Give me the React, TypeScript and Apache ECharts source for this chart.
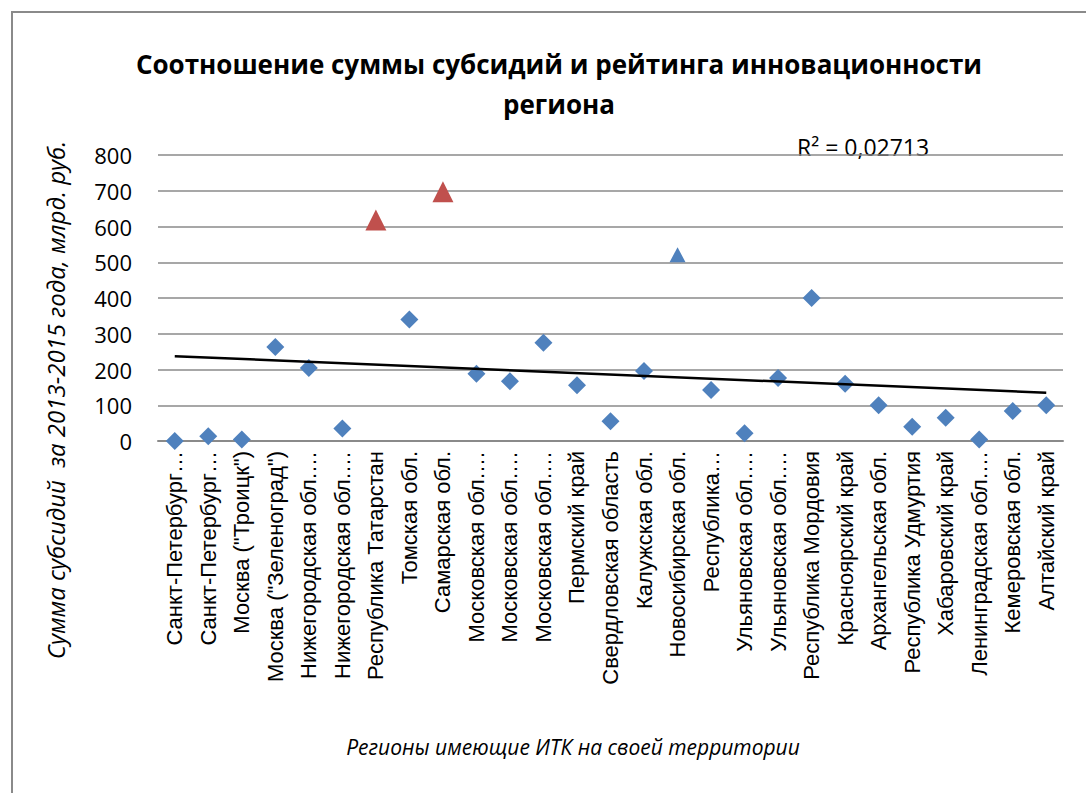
import { useEffect, useRef } from "react";
import * as echarts from "echarts";

// Regions hosting innovation clusters (ИТК), in chart order
const regions = [
  "Санкт-Петербург…",
  "Санкт-Петербург…",
  'Москва ("Троицк")',
  'Москва ("Зеленоград")',
  "Нижегородская обл.…",
  "Нижегородская обл.…",
  "Республика Татарстан",
  "Томская обл.",
  "Самарская обл.",
  "Московская обл.…",
  "Московская обл.…",
  "Московская обл.…",
  "Пермский край",
  "Свердловская область",
  "Калужская обл.",
  "Новосибирская обл.",
  "Республика…",
  "Ульяновская обл.…",
  "Ульяновская обл.…",
  "Республика Мордовия",
  "Красноярский край",
  "Архангельская обл.",
  "Республика Удмуртия",
  "Хабаровский край",
  "Ленинградская обл.…",
  "Кемеровская обл.",
  "Алтайский край",
];

// Subsidies 2013-2015, bln rub.
const subsidies = [
  0, 13, 4, 263, 204, 35, 618, 340, 697, 188, 167, 275, 156, 55, 196, 521,
  143, 22, 176, 400, 160, 100, 40, 65, 4, 84, 100,
];

// Regions highlighted with triangle markers
const redTriangleRegions = ["Республика Татарстан", "Самарская обл."];
const blueTriangleRegions = ["Новосибирская обл."];

const yTicks = [0, 100, 200, 300, 400, 500, 600, 700, 800];
const r2Label = "R² = 0,02713";

const BLUE = "#4F81BD";
const RED = "#C0504D";
const GRID_GRAY = "#8a8a8a";

// Least-squares linear trend over category positions 1..n
function linearTrend(values: number[]) {
  const n = values.length;
  const xs = values.map((_, i) => i + 1);
  const mx = xs.reduce((a, b) => a + b, 0) / n;
  const my = values.reduce((a, b) => a + b, 0) / n;
  let sxy = 0;
  let sxx = 0;
  for (let i = 0; i < n; i++) {
    sxy += (xs[i] - mx) * (values[i] - my);
    sxx += (xs[i] - mx) * (xs[i] - mx);
  }
  const slope = sxy / sxx;
  const intercept = my - slope * mx;
  return [
    [0, intercept + slope * xs[0]],
    [n - 1, intercept + slope * xs[n - 1]],
  ];
}

export default function App() {
  const ref = useRef<HTMLDivElement>(null);

  useEffect(() => {
    if (!ref.current) return;
    const chart = echarts.init(ref.current, null, { renderer: "svg" });

    const points = subsidies.map((v, i) => {
      const name = regions[i];
      if (redTriangleRegions.includes(name)) {
        return {
          value: v,
          symbol: "triangle",
          symbolSize: [21, 21],
          itemStyle: { color: RED, opacity: 1 },
        };
      }
      if (blueTriangleRegions.includes(name)) {
        return {
          value: v,
          symbol: "triangle",
          symbolSize: [16, 15],
          itemStyle: { color: BLUE, opacity: 1 },
        };
      }
      return { value: v };
    });

    chart.setOption({
      animation: false,
      backgroundColor: "#ffffff",
      title: {
        text: "Соотношение суммы субсидий и рейтинга инновационности\nрегиона",
        left: 554,
        top: 39,
        textAlign: "center",
        textStyle: {
          fontFamily: "Open Sans",
          fontWeight: "bold",
          fontSize: 26,
          lineHeight: 40,
          color: "#000",
        },
      },
      grid: { left: 158, right: 23, top: 155, bottom: 352 },
      xAxis: {
        type: "category",
        data: regions,
        boundaryGap: true,
        axisLine: { lineStyle: { color: GRID_GRAY, width: 2 } },
        axisTick: {
          inside: true,
          length: 7,
          lineStyle: { color: GRID_GRAY, width: 1.5 },
        },
        axisLabel: {
          interval: 0,
          rotate: 90,
          margin: 10,
          fontFamily: "Liberation Sans",
          fontSize: 22,
          color: "#000",
        },
      },
      yAxis: {
        type: "value",
        min: yTicks[0],
        max: yTicks[yTicks.length - 1],
        interval: 100,
        axisLine: { show: false },
        axisTick: { show: false },
        axisLabel: {
          margin: 26,
          fontFamily: "Open Sans",
          fontSize: 22,
          color: "#000",
        },
        splitLine: { lineStyle: { color: GRID_GRAY, width: 1.5 } },
      },
      series: [
        {
          type: "scatter",
          data: points,
          symbol: "diamond",
          symbolSize: [18, 18],
          itemStyle: { color: BLUE, opacity: 1 },
          z: 2,
        },
        {
          type: "line",
          data: linearTrend(subsidies),
          symbol: "none",
          lineStyle: { color: "#000", width: 2.5 },
          z: 3,
        },
      ],
      graphic: [
        {
          type: "rect",
          silent: true,
          shape: { x: 12, y: 12, width: 1100, height: 800 },
          style: { fill: "none", stroke: "#8a8a8a", lineWidth: 2 },
        },
        {
          type: "text",
          x: 797,
          y: 147,
          style: {
            text: r2Label,
            fontFamily: "Open Sans",
            fontSize: 23,
            fill: "#000",
            align: "left",
            verticalAlign: "middle",
          },
        },
        {
          type: "text",
          x: 55,
          y: 400,
          rotation: Math.PI / 2,
          style: {
            text: "Сумма субсидий  за 2013-2015 года, млрд. руб.",
            fontFamily: "Open Sans",
            fontStyle: "italic",
            fontSize: 24,
            fill: "#000",
            align: "center",
            verticalAlign: "middle",
          },
        },
        {
          type: "text",
          x: 573,
          y: 747,
          style: {
            text: "Регионы имеющие ИТК на своей территории",
            fontFamily: "Open Sans",
            fontStyle: "italic",
            fontSize: 21,
            fill: "#000",
            align: "center",
            verticalAlign: "middle",
          },
        },
      ],
    });

    return () => chart.dispose();
  }, []);

  return (
    <div
      ref={ref}
      style={{ position: "fixed", left: 0, top: 0, width: 1086, height: 793 }}
    />
  );
}
